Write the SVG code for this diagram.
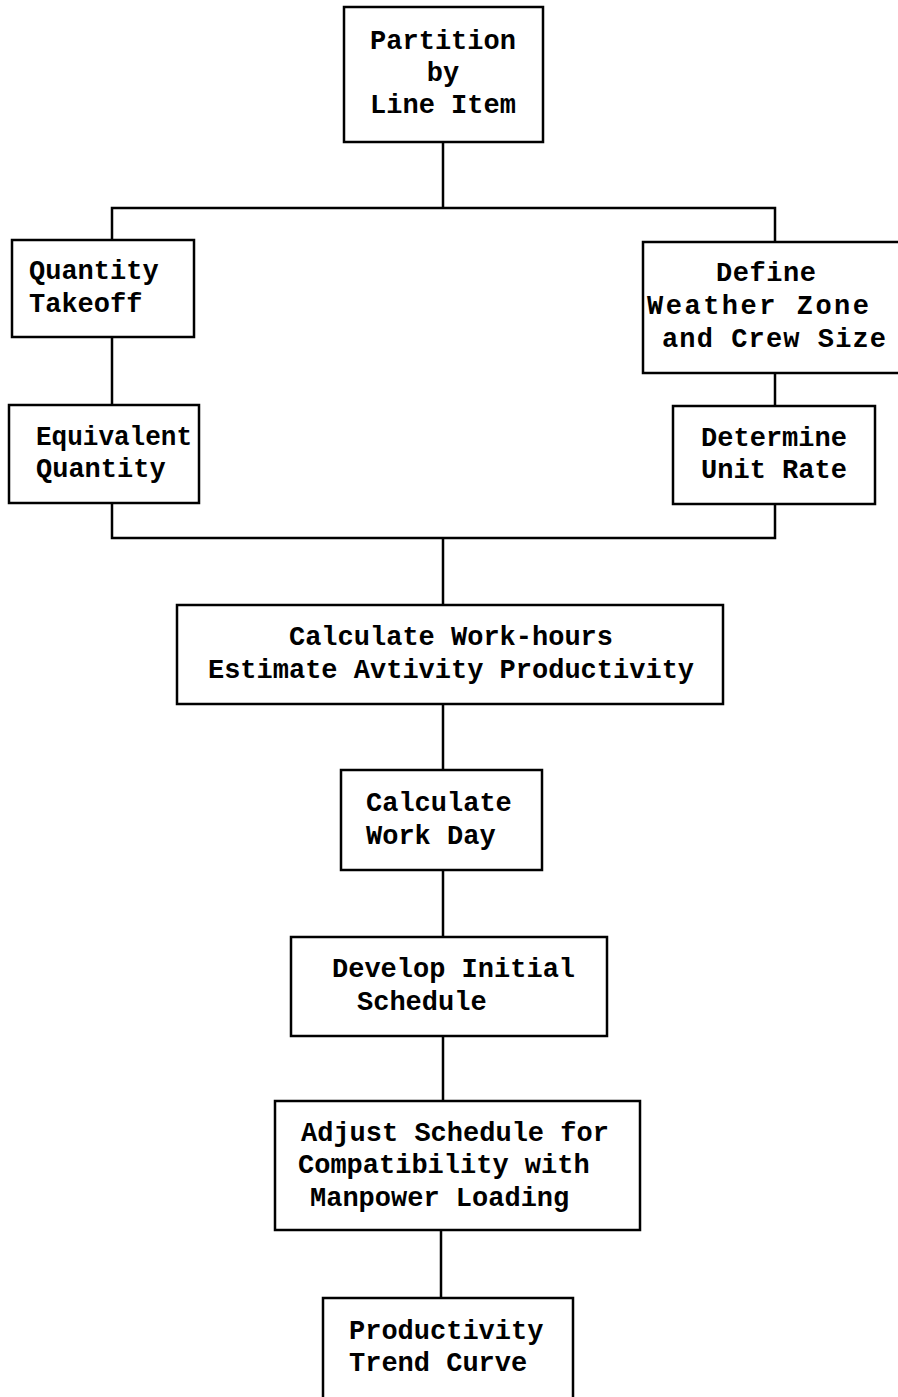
<svg xmlns="http://www.w3.org/2000/svg" width="898" height="1397" viewBox="0 0 898 1397">
<style>
.box{fill:none;stroke:#000;stroke-width:2.5}
.ln{fill:none;stroke:#000;stroke-width:2.5}
text{font-family:"Liberation Mono","DejaVu Sans Mono",monospace;font-size:27px;fill:#000;font-weight:bold}
.c{text-anchor:middle}
</style>
<rect width="898" height="1397" fill="#fff"/>
<g id="connectors">
<path class="ln" d="M443 142V208M112 240V208H775V242"/>
<path class="ln" d="M112 337V405M775 373V406"/>
<path class="ln" d="M112 503V538H775V504"/>
<path class="ln" d="M443 538V605M443 704V770M443 870V937M443 1036V1101M441 1230V1298"/>
</g>
<g id="n-partition">
<rect class="box" x="344" y="7" width="199" height="135"/>
<text class="c" x="443" y="49">Partition</text>
<text class="c" x="443" y="81">by</text>
<text class="c" x="443" y="113">Line Item</text>
</g>
<g id="n-qty-takeoff">
<rect class="box" x="12" y="240" width="182" height="97"/>
<text x="29" y="279">Quantity</text>
<text x="29" y="312">Takeoff</text>
</g>
<g id="n-equiv-qty">
<rect class="box" x="9" y="405" width="190" height="98"/>
<text x="36" y="445" textLength="156" lengthAdjust="spacingAndGlyphs">Equivalent</text>
<text x="36" y="477">Quantity</text>
</g>
<g id="n-define">
<rect class="box" x="643" y="242" width="260" height="131"/>
<text x="716" y="281" textLength="100" lengthAdjust="spacing">Define</text>
<text x="647" y="314" textLength="222" lengthAdjust="spacing">Weather Zone</text>
<text x="662" y="347" textLength="224" lengthAdjust="spacing">and Crew Size</text>
</g>
<g id="n-unit-rate">
<rect class="box" x="673" y="406" width="202" height="98"/>
<text class="c" x="774" y="446">Determine</text>
<text class="c" x="774" y="478">Unit Rate</text>
</g>
<g id="n-workhours">
<rect class="box" x="177" y="605" width="546" height="99"/>
<text class="c" x="451" y="645">Calculate Work-hours</text>
<text class="c" x="451" y="678">Estimate Avtivity Productivity</text>
</g>
<g id="n-workday">
<rect class="box" x="341" y="770" width="201" height="100"/>
<text x="366" y="811">Calculate</text>
<text x="366" y="844">Work Day</text>
</g>
<g id="n-initial">
<rect class="box" x="291" y="937" width="316" height="99"/>
<text x="332" y="977">Develop Initial</text>
<text x="357" y="1010">Schedule</text>
</g>
<g id="n-adjust">
<rect class="box" x="275" y="1101" width="365" height="129"/>
<text x="301" y="1141">Adjust Schedule for</text>
<text x="298" y="1173">Compatibility with</text>
<text x="310" y="1206">Manpower Loading</text>
</g>
<g id="n-trend">
<path class="box" d="M323 1400V1298H573V1400"/>
<text x="349" y="1339">Productivity</text>
<text x="349" y="1371">Trend Curve</text>
</g>
</svg>
